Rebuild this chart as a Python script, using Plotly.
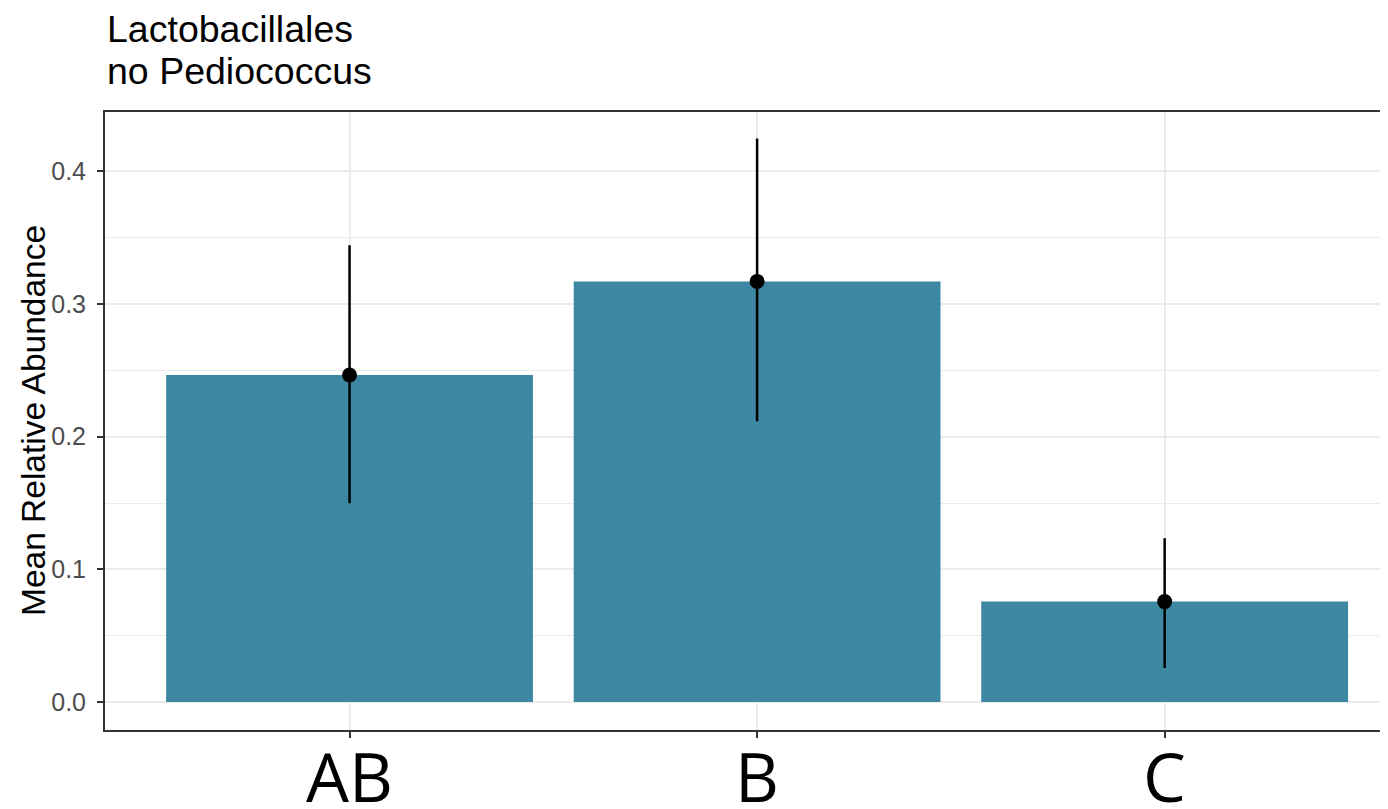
import plotly.graph_objects as go

categories = ["AB", "B", "C"]
means = [0.2465, 0.3171, 0.0757]
err_hi = [0.3443, 0.4249, 0.1235]
err_lo = [0.1499, 0.2117, 0.0256]
y_ticks = [0.0, 0.1, 0.2, 0.3, 0.4]
y_tick_text = ["0.0", "0.1", "0.2", "0.3", "0.4"]
title_lines = ["Lactobacillales", "no Pediococcus"]
y_title = "Mean Relative Abundance"

# page has an 8px body margin; work in page pixels and shift
O = 8
W, H = 1388 - O, 809 - O
plot_left, plot_top, plot_bottom = 105 - O, 112 - O, 730 - O
L, R, T, B = plot_left, 0, plot_top, H - plot_bottom
plot_w = W - L - R
plot_h = H - T - B


def py(page_y):
    return (plot_bottom - (page_y - O)) / plot_h


def px(page_x):
    return ((page_x - O) - plot_left) / plot_w


bar_color = "#3C87A1"

fig = go.Figure()
fig.add_trace(go.Bar(
    x=categories, y=means, width=0.9,
    marker=dict(color=bar_color, line=dict(width=0)),
    showlegend=False, hoverinfo="skip",
))
fig.add_trace(go.Scatter(
    x=categories, y=means, mode="markers",
    marker=dict(color="black", size=15),
    error_y=dict(
        type="data", symmetric=False,
        array=[h - m for h, m in zip(err_hi, means)],
        arrayminus=[m - l for m, l in zip(means, err_lo)],
        color="black", thickness=2.5, width=0,
    ),
    showlegend=False, hoverinfo="skip",
))

fig.update_layout(
    width=W, height=H,
    margin=dict(l=L, r=R, t=T, b=B, pad=0, autoexpand=False),
    paper_bgcolor="white", plot_bgcolor="white",
    bargap=0.1,
)
fig.update_xaxes(
    type="category", range=[-0.6, 2.548], automargin=False,
    showline=True, linecolor="#333333", linewidth=2, mirror=True,
    showgrid=True, gridcolor="#EBEBEB", gridwidth=1.5,
    ticks="outside", ticklen=6, tickcolor="#333333", tickwidth=1.5,
    showticklabels=False,
    zeroline=False,
)
fig.update_yaxes(
    range=[-0.0211, 0.4448], automargin=False,
    tickvals=y_ticks, ticktext=y_tick_text,
    showline=True, linecolor="#333333", linewidth=2, mirror=False,
    showgrid=True, gridcolor="#EBEBEB", gridwidth=1.5,
    minor=dict(tick0=0.05, dtick=0.1, showgrid=True, gridcolor="#EBEBEB", gridwidth=1.2, ticks=""),
    ticks="outside", ticklen=6, tickcolor="#333333", tickwidth=1.5,
    tickfont=dict(family="Liberation Sans", size=25, color="#4D4D4D"),
    ticklabelstandoff=6,
    zeroline=False,
)

for c in categories:
    fig.add_annotation(
        text=c, xref="x", yref="paper", x=c, y=py(775),
        xanchor="center", yanchor="middle", showarrow=False,
        font=dict(family="Open Sans", size=68, color="black"),
    )

fig.add_annotation(
    text=title_lines[0], xref="paper", yref="paper",
    x=0, y=py(28.5), xanchor="left", yanchor="middle",
    showarrow=False, font=dict(family="Liberation Sans", size=37.5, color="black"),
)
fig.add_annotation(
    text=title_lines[1], xref="paper", yref="paper",
    x=0, y=py(71), xanchor="left", yanchor="middle",
    showarrow=False, font=dict(family="Liberation Sans", size=37.5, color="black"),
)
fig.add_annotation(
    text=y_title, xref="paper", yref="paper",
    x=px(33), y=py(421), xanchor="center", yanchor="middle",
    textangle=-90, showarrow=False,
    font=dict(family="Liberation Sans", size=33.5, color="black"),
)

fig.write_html("out.html")
